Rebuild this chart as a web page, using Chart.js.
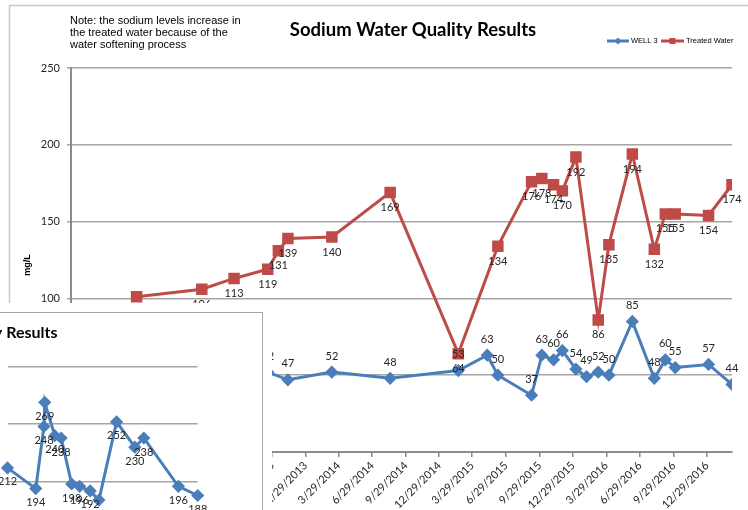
<!DOCTYPE html>
<html lang="en">
<head>
    <meta charset="UTF-8">
    <title>Sodium Water Quality Results</title>
    <script src="https://cdn.jsdelivr.net/npm/chart.js"></script>
    <style>
        html, body { margin: 0; padding: 0; background: #fff; overflow: hidden; }
        #wrap { position: relative; width: 748px; height: 510px; overflow: hidden; }
        #mainChart { position: absolute; left: 0; top: 0; }
        /* pasted picture of a second chart, with its white margin */
        #inset { position: absolute; left: 0; top: 303px; width: 272px; height: 250px; background: #fff; overflow: hidden; }
        #insetChart { position: absolute; left: 0; top: 0; }
        #insetBox { position: absolute; left: -2px; top: 9px; width: 265px; height: 260px;
                    box-sizing: border-box; border: 1.5px solid #a6a6a6; }
    </style>
</head>
<body>
<div id="wrap">
    <canvas id="mainChart" width="748" height="510"></canvas>
    <div id="inset">
        <div id="insetBox"></div>
        <canvas id="insetChart" width="272" height="250"></canvas>
    </div>
</div>
<script>
// sampling dates and values
var dates = ['9/24/2012', '3/21/2013', '6/17/2013', '9/17/2013', '10/16/2013', '11/11/2013', '3/11/2014',
    '8/17/2014', '2/19/2015', '5/9/2015', '6/7/2015', '9/7/2015', '10/5/2015', '11/6/2015', '11/30/2015',
    '1/6/2016', '2/4/2016', '3/7/2016', '4/5/2016', '6/8/2016', '8/7/2016', '9/6/2016', '10/3/2016',
    '1/2/2017', '3/7/2017'];
var well3 = [null, null, null, 52, null, 47, 52, 48, 53, 63, 50, 37, 63, 60, 66, 54, 49, 52, 50, 85, 48, 60, 55, 57, 44];
var treated = [101, 106, 113, 119, 131, 139, 140, 169, 64, null, 134, 176, 178, 174, 170, 192, null, 86, 135, 194, 132, 155, 155, 154, 174];

var tickDates = ['3/29/2012', '6/29/2012', '9/29/2012', '12/29/2012', '3/29/2013', '6/29/2013', '9/29/2013',
    '12/29/2013', '3/29/2014', '6/29/2014', '9/29/2014', '12/29/2014', '3/29/2015', '6/29/2015', '9/29/2015',
    '12/29/2015', '3/29/2016', '6/29/2016', '9/29/2016', '12/29/2016'];

// the chart pasted over the lower left corner
var insetDates = ['3/18/2015', '7/3/2015', '8/3/2015', '8/6/2015', '9/13/2015', '10/7/2015', '11/16/2015',
    '12/16/2015', '1/25/2016', '2/27/2016', '5/4/2016', '7/12/2016', '8/15/2016', '12/24/2016', '3/7/2017'];
var insetValues = [212, 194, 248, 269, 240, 238, 198, 196, 192, 184, 252, 230, 238, 196, 188];

var BLUE = '#4a7ebb';
var RED = '#be4b48';

function dayOf(s) {
    var p = s.split('/').map(Number);
    return Date.UTC(p[2], p[0] - 1, p[1]) / 86400000;
}
function fmt(v) {
    var d = new Date(v * 86400000);
    return (d.getUTCMonth() + 1) + '/' + d.getUTCDate() + '/' + d.getUTCFullYear();
}
function pts(xs, ys) {
    return xs.map(function (x, i) { return {x: dayOf(x), y: ys[i]}; });
}

// value labels: WELL 3 above the point, Treated Water below
var valueLabels = {
    id: 'valueLabels',
    afterDatasetsDraw: function (chart) {
        var ctx = chart.ctx;
        ctx.save();
        ctx.font = '11px Lato';
        ctx.fillStyle = '#262626';
        ctx.textAlign = 'center';
        ctx.textBaseline = 'middle';
        chart.data.datasets.forEach(function (ds, i) {
            var meta = chart.getDatasetMeta(i);
            meta.data.forEach(function (el, j) {
                var v = ds.data[j].y;
                if (v === null || v === undefined) return;
                ctx.fillText(String(v), el.x, el.y + ds.labelOffset);
            });
        });
        ctx.restore();
    }
};

var decor = {
    id: 'decor',
    beforeDraw: function (chart) {
        var ctx = chart.ctx;
        ctx.save();
        ctx.strokeStyle = '#c8c8c8';
        ctx.lineWidth = 1.5;
        ctx.strokeRect(9.5, 5.5, 800, 600);
        ctx.restore();
    },
    afterDraw: function (chart) {
        var ctx = chart.ctx;
        ctx.save();
        ctx.fillStyle = '#000';
        ctx.textBaseline = 'middle';
        ctx.font = 'bold 18.5px Lato';
        ctx.textAlign = 'center';
        ctx.fillText('Sodium Water Quality Results', 413, 30);

        ctx.font = '11px "Liberation Sans"';
        ctx.textAlign = 'left';
        ctx.fillText('Note: the sodium levels increase in', 70, 21);
        ctx.fillText('the treated water because of the', 70, 33);
        ctx.fillText('water softening process', 70, 45);

        // y axis title
        ctx.save();
        ctx.translate(28, 265);
        ctx.rotate(-Math.PI / 2);
        ctx.font = 'bold 9px "Liberation Sans"';
        ctx.textAlign = 'center';
        ctx.fillText('mg/L', 0, 0);
        ctx.restore();

        // legend
        ctx.font = '7.5px "Liberation Sans"';
        ctx.lineWidth = 3;
        ctx.strokeStyle = BLUE;
        ctx.beginPath(); ctx.moveTo(607, 41); ctx.lineTo(629, 41); ctx.stroke();
        ctx.fillStyle = BLUE;
        ctx.beginPath(); ctx.moveTo(618, 37.5); ctx.lineTo(621.5, 41); ctx.lineTo(618, 44.5); ctx.lineTo(614.5, 41); ctx.fill();
        ctx.fillStyle = '#000';
        ctx.fillText('WELL 3', 631, 41);
        ctx.strokeStyle = RED;
        ctx.beginPath(); ctx.moveTo(661, 41); ctx.lineTo(684, 41); ctx.stroke();
        ctx.fillStyle = RED;
        ctx.fillRect(669.5, 38, 6, 6);
        ctx.fillStyle = '#000';
        ctx.fillText('Treated Water', 686, 41);
        ctx.restore();
    }
};

new Chart(document.getElementById('mainChart'), {
    type: 'line',
    data: {
        datasets: [{
            label: 'WELL 3',
            data: pts(dates, well3),
            borderColor: BLUE,
            backgroundColor: BLUE,
            borderWidth: 3,
            pointStyle: 'rectRot',
            pointRadius: 4.5,
            spanGaps: true,
            labelOffset: -16
        }, {
            label: 'Treated Water',
            data: pts(dates, treated),
            borderColor: RED,
            backgroundColor: RED,
            borderWidth: 3,
            pointStyle: 'rect',
            pointRadius: 6,
            spanGaps: true,
            labelOffset: 15
        }]
    },
    options: {
        responsive: false,
        animation: false,
        devicePixelRatio: 1,
        layout: {padding: {top: 68, right: 16, bottom: 0, left: 0}},
        plugins: {legend: {display: false}, tooltip: {enabled: false}},
        scales: {
            x: {
                type: 'linear',
                min: dayOf(tickDates[0]),
                max: dayOf(dates[dates.length - 1]),
                afterBuildTicks: function (s) {
                    s.ticks = tickDates.map(function (t) { return {value: dayOf(t)}; });
                },
                afterFit: function (s) { s.height = 58; },
                ticks: {
                    callback: function (v) { return fmt(v); },
                    autoSkip: false, minRotation: 45, maxRotation: 45,
                    color: '#262626', font: {family: 'Lato', size: 11}, padding: 2
                },
                grid: {drawOnChartArea: false, drawTicks: true, tickLength: 5, color: '#8c8c8c', lineWidth: 1.5},
                border: {color: '#8c8c8c', width: 2}
            },
            y: {
                min: 0, max: 250,
                afterFit: function (s) { s.width = 71; },
                ticks: {stepSize: 50, padding: 7, color: '#262626', font: {family: 'Lato', size: 11}},
                grid: {color: '#a6a6a6', lineWidth: 1.5, tickLength: 4},
                border: {color: '#8c8c8c', width: 2}
            }
        }
    },
    plugins: [decor, valueLabels]
});

var insetTitle = {
    id: 'insetTitle',
    afterDraw: function (chart) {
        var ctx = chart.ctx;
        ctx.save();
        ctx.fillStyle = '#000';
        ctx.font = 'bold 16px Lato';
        ctx.textAlign = 'right';
        ctx.textBaseline = 'middle';
        ctx.fillText('Water Quality Results', 57.5, 30);
        ctx.restore();
    }
};

new Chart(document.getElementById('insetChart'), {
    type: 'line',
    data: {
        datasets: [{
            label: 'Hardness',
            data: pts(insetDates, insetValues),
            borderColor: BLUE,
            backgroundColor: BLUE,
            borderWidth: 3,
            pointStyle: 'rectRot',
            pointRadius: 4.5,
            clip: false,
            labelOffset: 14
        }]
    },
    options: {
        responsive: false,
        animation: false,
        devicePixelRatio: 1,
        layout: {padding: {top: 63.7, right: 74.3, bottom: 13.8, left: 0}},
        plugins: {legend: {display: false}, tooltip: {enabled: false}},
        scales: {
            x: {type: 'linear', display: false, min: dayOf(insetDates[0]), max: dayOf(insetDates[insetDates.length - 1])},
            y: {
                min: 150, max: 300,
                ticks: {display: false, stepSize: 50},
                grid: {color: '#a6a6a6', lineWidth: 1.5, drawTicks: false},
                border: {display: false}
            }
        }
    },
    plugins: [insetTitle, valueLabels]
});
</script>
</body>
</html>
